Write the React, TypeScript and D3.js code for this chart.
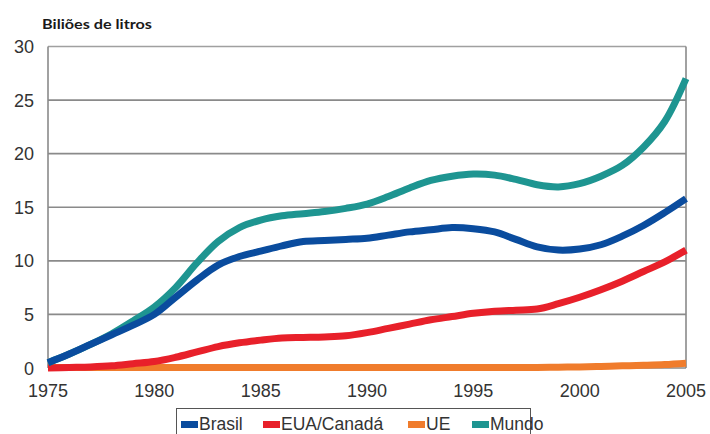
import React from "react";
import * as d3 from "d3";

const years = d3.range(1975, 2006);
const brasil = [0.5, 1.3, 2.2, 3.1, 4.0, 5.0, 6.6, 8.2, 9.6, 10.4, 10.9, 11.4, 11.8, 11.9, 12.0, 12.1, 12.4, 12.7, 12.9, 13.1, 13.0, 12.7, 12.0, 11.3, 11.0, 11.1, 11.5, 12.3, 13.3, 14.5, 15.8];
const eua = [0.0, 0.05, 0.1, 0.2, 0.4, 0.6, 1.0, 1.5, 2.0, 2.35, 2.6, 2.8, 2.85, 2.9, 3.0, 3.3, 3.7, 4.1, 4.5, 4.8, 5.1, 5.3, 5.4, 5.5, 6.0, 6.6, 7.3, 8.1, 9.0, 9.9, 11.0];
const ue = [0.05, 0.05, 0.05, 0.05, 0.05, 0.05, 0.05, 0.05, 0.05, 0.05, 0.05, 0.05, 0.05, 0.05, 0.05, 0.05, 0.05, 0.05, 0.05, 0.05, 0.05, 0.05, 0.05, 0.05, 0.08, 0.1, 0.15, 0.2, 0.25, 0.32, 0.45];
const mundo = [0.5, 1.3, 2.2, 3.2, 4.4, 5.7, 7.5, 9.8, 11.8, 13.1, 13.8, 14.2, 14.4, 14.6, 14.9, 15.3, 16.0, 16.8, 17.5, 17.9, 18.1, 18.0, 17.6, 17.1, 16.9, 17.2, 17.9, 18.9, 20.6, 23.0, 27.0];

const yTicks = [0, 5, 10, 15, 20, 25, 30];
const xTicks = [1975, 1980, 1985, 1990, 1995, 2000, 2005];
const title = "Biliões de litros";

const series = [
  { name: "UE", values: ue, color: "#f07c2c" },
  { name: "EUA/Canadá", values: eua, color: "#e8202a" },
  { name: "Mundo", values: mundo, color: "#1e9591" },
  { name: "Brasil", values: brasil, color: "#0a4c9e" },
];
const legendOrder = ["Brasil", "EUA/Canadá", "UE", "Mundo"];

export default function App() {
  const x = d3.scaleLinear().domain([1975, 2005]).range([48, 686]);
  const y = d3.scaleLinear().domain([0, 30]).range([368, 46.5]);
  const line = (vals: number[]) =>
    d3
      .line<number>()
      .x((_, i) => x(years[i]))
      .y((v) => y(v))
      .curve(d3.curveCatmullRom.alpha(0.5))(vals) as string;
  const font = "'Liberation Sans', Arial, sans-serif";
  const legendX: Record<string, number> = { Brasil: 181, "EUA/Canadá": 263, UE: 408, Mundo: 472 };
  return (
    <div style={{ position: "fixed", left: 0, top: 0 }}>
      <svg width={710} height={434} style={{ display: "block", background: "#fff" }}>
        <rect width={710} height={434} fill="#fff" />
        {yTicks.map((t) => (
          <line key={t} x1={48} x2={686} y1={y(t)} y2={y(t)} stroke={t === 30 ? "#a0a0a0" : "#8a8a8a"} strokeWidth={1.6} />
        ))}
        <line x1={48} x2={48} y1={y(30)} y2={y(0)} stroke="#8a8a8a" strokeWidth={1.6} />
        <line x1={686} x2={686} y1={y(30)} y2={y(0)} stroke="#8a8a8a" strokeWidth={1.6} />
        {series.map((s) => (
          <path key={s.name} d={line(s.values)} fill="none" stroke={s.color} strokeWidth={7} strokeLinecap="butt" strokeLinejoin="round" />
        ))}
        {yTicks.map((t) => (
          <text key={t} x={34} y={y(t) + 6.5} textAnchor="end" fontFamily={font} fontSize={18} fill="#333">
            {t}
          </text>
        ))}
        {xTicks.map((t) => (
          <text key={t} x={x(t)} y={397} textAnchor="middle" fontFamily={font} fontSize={18} fill="#333">
            {t}
          </text>
        ))}
        <text x={42} y={29} fontFamily="Lato, 'Open Sans', sans-serif" fontWeight="bold" fontSize={13.5} fill="#1a1a1a" textLength={110} lengthAdjust="spacingAndGlyphs">
          {title}
        </text>
        <rect x={176.5} y={408.5} width={354} height={40} fill="#fff" stroke="#555" strokeWidth={1} />
        {legendOrder.map((n) => {
          const s = series.find((d) => d.name === n)!;
          const lx = legendX[n];
          return (
            <g key={n}>
              <rect x={lx} y={421} width={17} height={7} fill={s.color} />
              <text x={lx + 18} y={430} fontFamily={font} fontSize={17.5} fill="#333">
                {n}
              </text>
            </g>
          );
        })}
      </svg>
    </div>
  );
}
